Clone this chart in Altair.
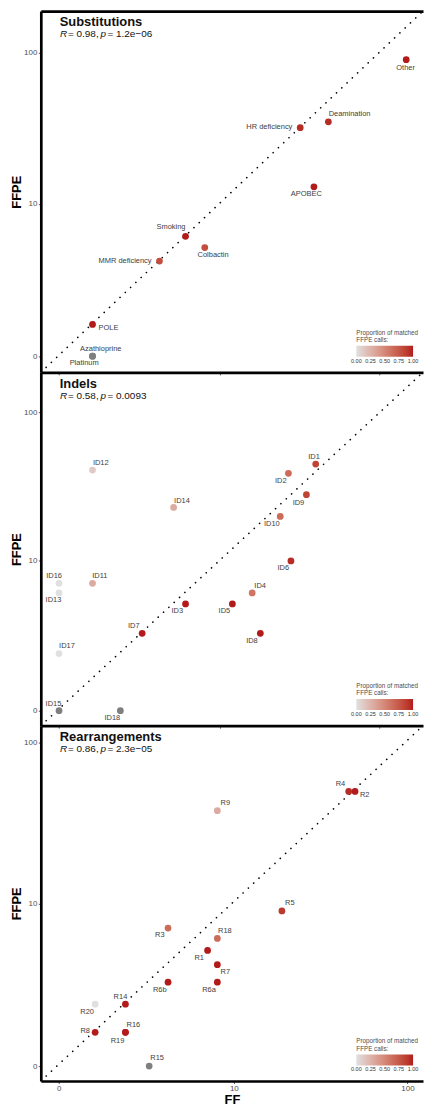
import math
import altair as alt
import pandas as pd

FONT = "Liberation Sans"
W = 384

# ---------------- data ----------------
panel_titles = ["Substitutions", "Indels", "Rearrangements"]
r_values = ["0.98", "0.58", "0.86"]
p_values = ["1.2e\u221206", "0.0093", "2.3e\u221205"]
panel_heights = [363, 355, 357]
# axis ranges in pseudo-log units, as drawn in each panel
x_domains = [[-0.262, 5.232], [-0.262, 5.232], [-0.236, 4.81]]
y_domains = [[-0.246, 5.237], [-0.231, 5.222], [-0.213, 4.848]]

sub_names = ["Other", "Deamination", "HR deficiency", "APOBEC", "Smoking",
             "Colbactin", "MMR deficiency", "POLE", "Azathioprine", "Platinum"]
sub_ff = [147, 48, 32, 39, 6, 8, 4, 1, 1, 1]
sub_ffpe = [90, 35, 32, 13, 6, 5, 4, 1, 0, 0]
sub_prop = [1.0, 0.95, 0.95, 1.0, 1.0, 0.8, 0.8, 1.0, None, None]

id_names = ["ID1", "ID2", "ID3", "ID4", "ID5", "ID6", "ID7", "ID8", "ID9",
            "ID10", "ID11", "ID12", "ID13", "ID14", "ID15", "ID16", "ID17", "ID18"]
id_ff = [40, 27, 6, 16, 12, 28, 3, 18, 35, 24, 1, 1, 0, 5, 0, 0, 0, 2]
id_ffpe = [45, 39, 5, 6, 5, 10, 3, 3, 28, 20, 7, 41, 6, 23, 0, 7, 2, 0]
id_prop = [0.85, 0.65, 1.0, 0.6, 1.0, 0.95, 1.0, 1.0, 0.85, 0.65, 0.3, 0.12,
           0.0, 0.3, None, 0.0, 0.0, None]

r_names = ["R1", "R2", "R3", "R4", "R5", "R6a", "R6b", "R7", "R8", "R9",
           "R14", "R15", "R16", "R18", "R19", "R20"]
r_ff = [7, 50, 4, 46, 19, 8, 4, 8, 1, 8, 2, 3, 2, 8, 2, 1]
r_ffpe = [5, 50, 7, 50, 9, 3, 3, 4, 1, 38, 2, 0, 1, 6, 1, 2]
r_prop = [1.0, 1.0, 0.65, 0.95, 0.9, 1.0, 1.0, 1.0, 1.0, 0.3, 1.0, None,
          1.0, 0.65, 1.0, 0.0]

# ---------------- label nudges (pixels, styling only) ----------------
sub_ldx = [-0.6, 21.3, -31, -7.7, -14.6, 8.4, -34.6, 16, 8.3, -8.4]
sub_ldy = [8.6, -7.4, -0.4, 7.6, -9.4, 7.6, 0, 3.3, -7.4, 7.3]
id_ldx = [-1.7, -7.7, -8.3, 8, -8, -7.7, -8.4, -8.4, -8, -8.4, 7.3, 8.3,
          -5.6, 8.4, -5.6, -5, 8, -8]
id_ldy = [-7.4, 7.3, 7, -7.4, 7, 7.6, -7, 7.7, 8, 7.7, -7.3, -7.4, 7.3,
          -6.7, -7, -7.3, -7.4, 7.3]
r_ldx = [-8.4, 9.7, -8.3, -8.3, 8, -8.4, -8.3, 8, -10, 8, -5, 8, 8, 7.6, -8, -8]
r_ldy = [7.7, 4, 7.3, -7.3, -7.7, 7.7, 7.7, 7.6, -1.7, -7.7, -7.4, -7.7,
         -7.4, -7, 8.6, 7.6]

# pseudo-log (asinh(v/2)) transform used for both axes
def pl_expr(f):
    return f"log(datum.{f}/2 + sqrt(datum.{f}*datum.{f}/4 + 1))"

TICKS = [0.0, math.asinh(5), math.asinh(50)]          # positions of 0, 10, 100
LABEL_EXPR = "datum.value < 1 ? '0' : (datum.value < 3.5 ? '10' : '100')"


def annot(text, x, y, size, weight="normal", style="normal"):
    return alt.Chart(pd.DataFrame({"t": [text]})).mark_text(
        align="left", baseline="alphabetic", font=FONT, fontSize=size,
        fontWeight=weight, fontStyle=style, color="#111111"
    ).encode(x=alt.value(x), y=alt.value(y), text="t:N")


def make_panel(i, names, ff, ffpe, prop, ldx, ldy, last):
    height = panel_heights[i]
    xlo, xhi = x_domains[i]
    ylo, yhi = y_domains[i]
    kx = W / (xhi - xlo)
    ky = height / (yhi - ylo)
    df = pd.DataFrame({"name": names, "ff": ff, "ffpe": ffpe, "prop": prop,
                       "ldx": ldx, "ldy": ldy})
    xs = alt.Scale(domain=[xlo, xhi], nice=False, zero=False)
    ys = alt.Scale(domain=[ylo, yhi], nice=False, zero=False)

    y_axis = alt.Axis(values=TICKS, labelExpr=LABEL_EXPR, title="FFPE",
                      titleFont=FONT, titleFontSize=13, titleFontWeight="bold",
                      titleColor="black", titlePadding=0,
                      labelFont=FONT, labelFontSize=8, labelColor="#4d4d4d",
                      labelPadding=1.5, tickSize=2.5, tickColor="#333333",
                      tickWidth=0.8, domainColor="black", domainWidth=2.7,
                      grid=False)
    if last:
        x_axis = alt.Axis(values=TICKS, labelExpr=LABEL_EXPR, title="FF",
                          titleFont=FONT, titleFontSize=13, titleFontWeight="bold",
                          titleColor="black", titlePadding=1,
                          labelFont=FONT, labelFontSize=8, labelColor="#4d4d4d",
                          labelPadding=1.5, tickSize=2.5, tickColor="#333333",
                          tickWidth=0.8, domainColor="black", domainWidth=2.7,
                          grid=False)
    else:
        x_axis = alt.Axis(values=TICKS, labels=False, title=None,
                          tickSize=2.5, tickColor="#333333", tickWidth=0.8,
                          domainColor="black", domainWidth=2.7, grid=False)

    base = alt.Chart(df).transform_calculate(
        tx=pl_expr("ff"), ty=pl_expr("ffpe")
    ).transform_calculate(
        lx=f"datum.tx + datum.ldx/{kx}", ly=f"datum.ty - datum.ldy/{ky}"
    )

    # dotted diagonal from corner to corner of the panel
    diag = alt.Chart(pd.DataFrame({"tx": [xlo, xhi], "ty": [ylo, yhi]})).mark_line(
        color="black", strokeWidth=1.6, strokeDash=[0.1, 7.2], strokeCap="round",
        clip=True
    )
    if i == 0:
        top_axis = alt.Axis(orient="top", labels=False, ticks=False, title=None,
                            domainColor="black", domainWidth=2.7, grid=False)
        diag = diag.encode(x=alt.X("tx:Q", scale=xs, axis=top_axis),
                           y=alt.Y("ty:Q", scale=ys, axis=None))
    else:
        diag = diag.encode(x=alt.X("tx:Q", scale=xs, axis=None),
                           y=alt.Y("ty:Q", scale=ys, axis=None))

    legend = alt.Legend(
        orient="none", legendX=317, legendY=height - 43, direction="horizontal",
        title=["Proportion of matched", "FFPE calls:"], titleFont=FONT,
        titleFontSize=6.3, titleFontWeight="normal", titleColor="#4d4d4d",
        titleLineHeight=7.5, titlePadding=2.5, titleLimit=200,
        gradientLength=57, gradientThickness=11, gradientStrokeWidth=0,
        labelFont=FONT, labelFontSize=5.5, labelColor="#333333",
        values=[0, 0.25, 0.5, 0.75, 1], format=".2f",
        labelOverlap=False, labelOffset=2, padding=0)

    pts = base.transform_filter("isValid(datum.prop)").mark_circle(
        size=46, opacity=1
    ).encode(
        x=alt.X("tx:Q", scale=xs, axis=x_axis),
        y=alt.Y("ty:Q", scale=ys, axis=y_axis),
        color=alt.Color("prop:Q", scale=alt.Scale(domain=[-0.001, 1.001],
                        range=["#E0E0E0", "#B31B1B"], interpolate="lab"),
                        legend=legend),
    )
    na_pts = base.transform_filter("!isValid(datum.prop)").mark_circle(
        size=46, opacity=1, color="#7f7f7f"
    ).encode(x=alt.X("tx:Q", scale=xs, axis=None),
             y=alt.Y("ty:Q", scale=ys, axis=None))

    labels = base.mark_text(font=FONT, fontSize=7.5, color="#404040",
                            align="center", baseline="middle").encode(
        x=alt.X("lx:Q", scale=xs, axis=None),
        y=alt.Y("ly:Q", scale=ys, axis=None),
        text="name:N")

    t1 = annot(panel_titles[i], 19, 15.5, 13, weight="bold")
    s1 = annot("R", 19.3, 26.5, 10, style="italic")
    s2 = annot(f"= {r_values[i]},", 27.3, 26.5, 10)
    s3 = annot("p", 60, 26.5, 10, style="italic")
    s4 = annot(f"= {p_values[i]}", 67, 26.5, 10)

    return alt.layer(diag, na_pts, pts, labels, t1, s1, s2, s3, s4).resolve_axis(
        x="independent", y="independent"
    ).properties(width=W, height=height)


p1 = make_panel(0, sub_names, sub_ff, sub_ffpe, sub_prop, sub_ldx, sub_ldy, False)
p2 = make_panel(1, id_names, id_ff, id_ffpe, id_prop, id_ldx, id_ldy, False)
p3 = make_panel(2, r_names, r_ff, r_ffpe, r_prop, r_ldx, r_ldy, True)

chart = alt.vconcat(p1, p2, p3, spacing=0, bounds="flush").resolve_scale(
    x="independent", y="independent", color="independent"
).properties(
    padding={"left": 10, "top": 7.5, "right": 0, "bottom": 0},
    background="white",
).configure_view(stroke="transparent")

chart.save("out.html", embed_options={"renderer": "svg", "actions": False})
